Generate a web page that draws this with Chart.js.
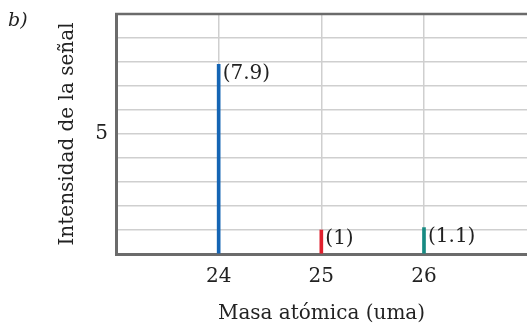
<!DOCTYPE html>
<html>
<head>
<meta charset="utf-8">
<script src="https://cdn.jsdelivr.net/npm/chart.js@4"></script>
<style>
  html, body { margin: 0; padding: 0; background: #fff; overflow: hidden; }
  #wrap { position: relative; width: 527px; height: 325px; overflow: hidden; }
  #tag { position: absolute; left: 8px; top: 8px; font: italic 19px "DejaVu Serif", serif; color: #222; }
</style>
</head>
<body>
<div id="wrap">
  <canvas id="myChart" width="540" height="325"></canvas>
  <div id="tag">b)</div>
</div>
<script>
const masses = [24, 25, 26]
const intensities = [7.9, 1, 1.1]
const peakLabels = ['(7.9)', '(1)', '(1.1)']
const peakColors = ['#1565b4', '#e0202e', '#178a82']
const yTickLabels = { 5: '5' }
const xTickLabels = { 24: '24', 25: '25', 26: '26' }
const xTitle = 'Masa atómica (uma)'

const serif = '"DejaVu Serif", serif'
const visibleWidth = 527
const ctx = document.getElementById('myChart').getContext('2d')

// Labels next to each peak, the top frame line and the x title
const peakLabelPlugin = {
    id: 'peakLabels',
    afterDatasetsDraw(chart) {
        const c = chart.ctx
        const meta = chart.getDatasetMeta(0)
        c.save()
        c.font = '20px ' + serif
        c.fillStyle = '#222'
        c.textBaseline = 'top'
        meta.data.forEach((bar, i) => {
            c.fillText(peakLabels[i], bar.x + 4, bar.y - 1)
        })
        const a = chart.chartArea
        c.strokeStyle = '#6b6b6b'
        c.lineWidth = 2.5
        c.beginPath()
        c.moveTo(a.left - 1, a.top)
        c.lineTo(a.right, a.top)
        c.stroke()

        // x title centred on the visible part of the plot
        c.textAlign = 'center'
        c.textBaseline = 'middle'
        c.fillText(xTitle, (a.left + visibleWidth) / 2, 314)
        c.restore()
    }
}

const myChart = new Chart(ctx, {
    type: 'bar',
    data: {
        datasets: [{
            data: masses.map((m, i) => ({ x: m, y: intensities[i] })),
            backgroundColor: peakColors,
            barThickness: 3
        }]
    },
    options: {
        responsive: false,
        animation: false,
        layout: { padding: { left: 56, top: 14, right: 0, bottom: 0 } },
        plugins: { legend: { display: false }, tooltip: { enabled: false } },
        scales: {
            x: {
                type: 'linear',
                min: 23,
                max: 27.13,
                offset: false,
                afterBuildTicks: (scale) => {
                    scale.ticks = scale.ticks.filter(t => t.value < 27)
                },
                afterFit: (scale) => {
                    scale.height = 71
                    scale.paddingLeft = 0
                    scale.paddingRight = 0
                },
                ticks: {
                    stepSize: 1,
                    autoSkip: false,
                    maxRotation: 0,
                    color: '#222',
                    font: { family: serif, size: 20 },
                    padding: 11,
                    callback: (v) => xTickLabels[v] || ''
                },
                grid: {
                    offset: false,
                    color: '#cfcfcf',
                    lineWidth: 1.5,
                    drawTicks: false
                },
                border: { color: '#6b6b6b', width: 3 },
                title: { display: false }
            },
            y: {
                min: 0,
                max: 10,
                afterFit: (scale) => {
                    scale.width = 60
                    scale.paddingTop = 0
                    scale.paddingBottom = 0
                },
                ticks: {
                    stepSize: 1,
                    autoSkip: false,
                    color: '#222',
                    font: { family: serif, size: 20 },
                    padding: 8,
                    callback: (v) => yTickLabels[v] || ''
                },
                grid: { color: '#cfcfcf', lineWidth: 1.5, drawTicks: false },
                border: { color: '#6b6b6b', width: 3 },
                title: {
                    display: true,
                    text: 'Intensidad de la señal',
                    color: '#222',
                    font: { family: serif, size: 20 },
                    padding: { top: 0, bottom: 0 }
                }
            }
        }
    },
    plugins: [peakLabelPlugin]
})
</script>
</body>
</html>
